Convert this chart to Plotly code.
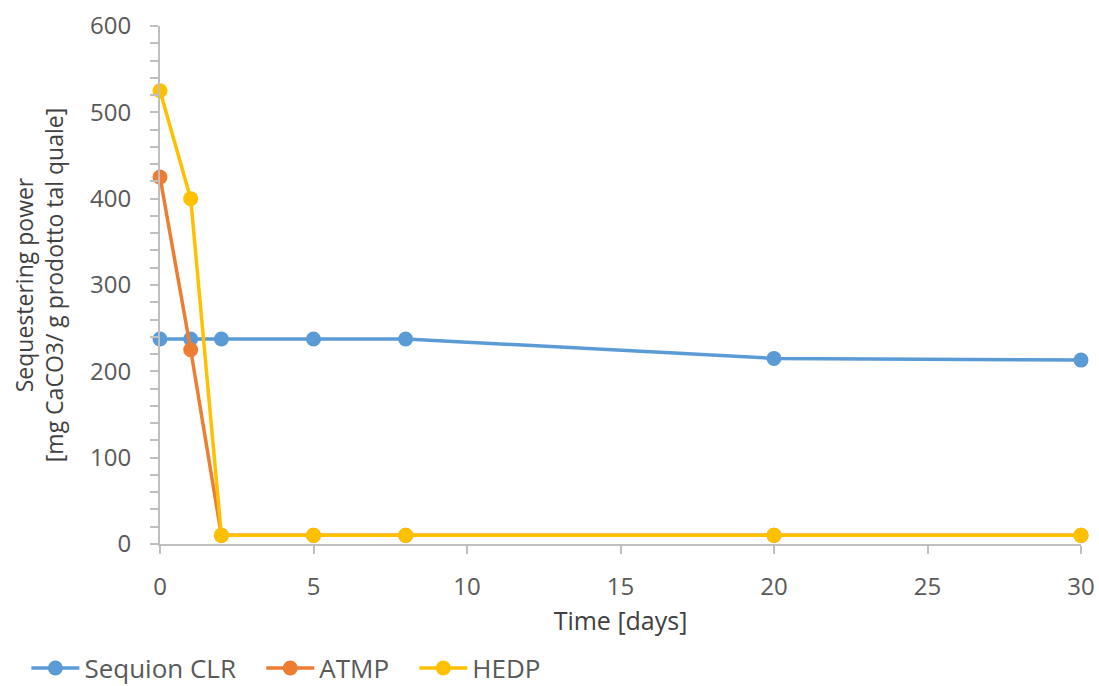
import plotly.graph_objects as go

days = [0, 1, 2, 5, 8, 20, 30]
sequion_clr = [237.5, 237.5, 237.5, 237.5, 237.5, 215, 213]
atmp = [425, 225, 10, 10, 10, 10, 10]
hedp = [525, 400, 10, 10, 10, 10, 10]

series = [
    ("Sequion CLR", sequion_clr, "#5B9BD5"),
    ("ATMP", atmp, "#ED7D31"),
    ("HEDP", hedp, "#FFC000"),
]

PAD = "\u00a0" * 3

fig = go.Figure()
for name, vals, col in series:
    fig.add_trace(go.Scatter(
        x=days, y=vals, name=name + PAD, mode="lines+markers",
        line=dict(color=col, width=3.5),
        marker=dict(color=col, size=15),
        cliponaxis=False,
    ))

font_family = "Open Sans, sans-serif"
fig.update_layout(
    width=1099, height=686,
    margin=dict(l=160, r=18, t=26, b=142, autoexpand=False),
    paper_bgcolor="white", plot_bgcolor="white",
    font=dict(family=font_family, color="#595959", size=24),
    showlegend=True,
    legend=dict(orientation="h", xref="container", x=0.024, xanchor="left",
                yref="container", y=0.026, yanchor="middle",
                font=dict(size=26, color="#595959"), itemwidth=48,
                tracegroupgap=0),
    xaxis=dict(
        range=[0, 30], tickvals=[0, 5, 10, 15, 20, 25, 30], automargin=False,
        showgrid=False, zeroline=False, showline=True, linecolor="#BFBFBF", linewidth=2,
        ticks="outside", ticklen=8, tickcolor="#BFBFBF", tickwidth=2,
        ticklabelstandoff=12,
        tickfont=dict(size=24, color="#595959"),
        title=dict(text="Time [days]", font=dict(size=25, color="#404040"), standoff=12),
    ),
    yaxis=dict(
        range=[0, 600], dtick=100, automargin=False,
        showgrid=False, zeroline=False, showline=True, linecolor="#BFBFBF", linewidth=2,
        ticks="outside", ticklen=8, tickcolor="#BFBFBF", tickwidth=2,
        ticklabelstandoff=14,
        minor=dict(dtick=20, ticks="outside", ticklen=8, tickcolor="#BFBFBF", tickwidth=2, showgrid=False),
        tickfont=dict(size=24, color="#595959"),
        title=dict(text="Sequestering power<br>[mg CaCO3/ g prodotto tal quale]",
                   font=dict(size=23, color="#404040"), standoff=20),
    ),
)

fig.write_html("out.html")
